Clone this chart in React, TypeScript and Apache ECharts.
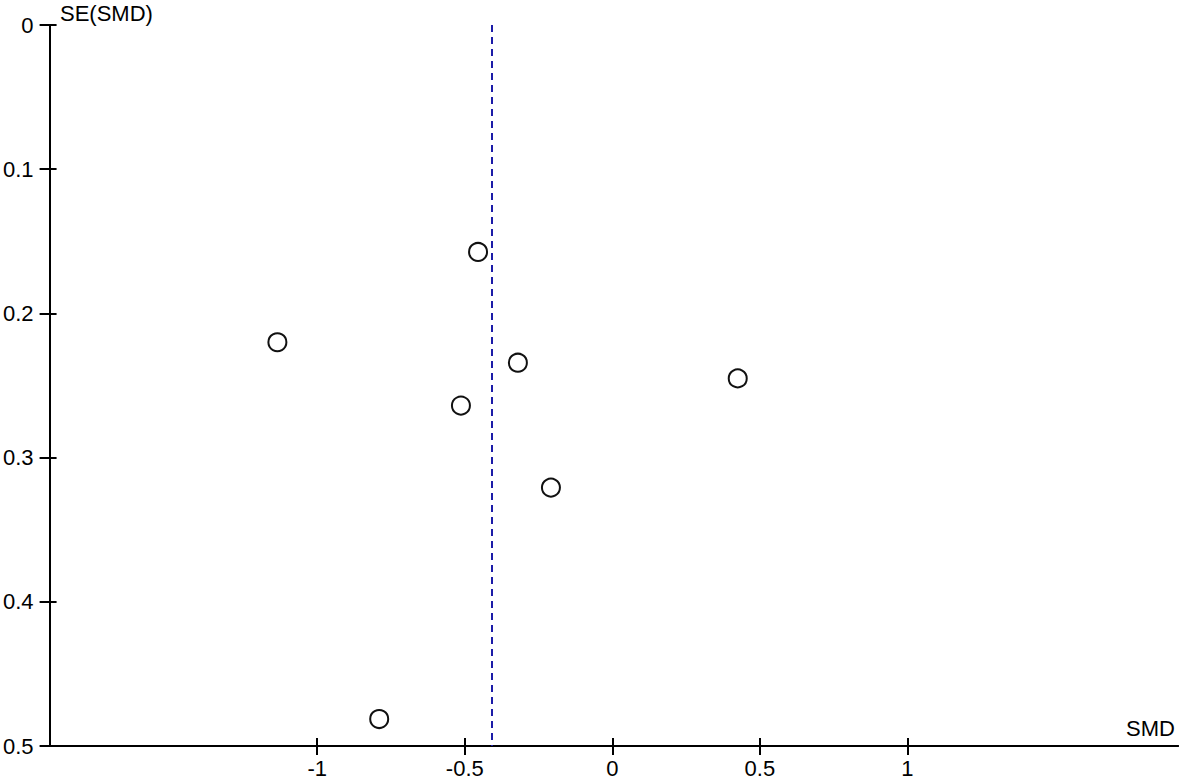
import React, { useEffect, useRef } from "react";
import * as echarts from "echarts";

const smd: number[] = [-0.455, -1.135, -0.32, 0.425, -0.513, -0.208, -0.79];
const seSmd: number[] = [0.1574, 0.22, 0.2342, 0.2451, 0.2639, 0.3208, 0.4813];
const pooledSmd = -0.414;
const xTicks: number[] = [-1, -0.5, 0, 0.5, 1];
const yTicks: number[] = [0, 0.1, 0.2, 0.3, 0.4, 0.5];
const xRange: [number, number] = [-1.907, 1.917];
const yRange: [number, number] = [0, 0.5];

export default function App() {
  const ref = useRef<HTMLDivElement>(null);
  useEffect(() => {
    if (!ref.current) return;
    const chart = echarts.init(ref.current, undefined, { renderer: "svg" });
    const font = "'Liberation Sans', Arial, sans-serif";
    const axisLine = { show: true, onZero: false, lineStyle: { color: "#000", width: 2 } };
    const xLabelFmt = (v: number) => (xTicks.some((t) => Math.abs(t - v) < 1e-9) ? String(v) : "");
    const baseX = {
      type: "value" as const,
      min: xRange[0],
      max: xRange[1],
      position: "bottom" as const,
      splitLine: { show: false },
      axisLine,
    };
    const baseY = {
      type: "value" as const,
      min: yRange[0],
      max: yRange[1],
      interval: 0.1,
      inverse: true,
      position: "left" as const,
      splitLine: { show: false },
      axisLine,
    };
    chart.setOption({
      animation: false,
      backgroundColor: "#fff",
      grid: { left: 48, top: 25, right: 3, bottom: 34, containLabel: false },
      xAxis: [
        {
          ...baseX,
          axisTick: {
            show: true,
            inside: false,
            length: 9,
            lineStyle: { color: "#000", width: 2 },
            customValues: xTicks,
          },
          axisLabel: {
            show: true,
            color: "#000",
            fontSize: 22,
            fontFamily: font,
            margin: 11,
            customValues: xTicks,
            formatter: xLabelFmt,
          },
        },
        {
          ...baseX,
          axisTick: {
            show: true,
            inside: true,
            length: 8,
            lineStyle: { color: "#000", width: 2 },
            customValues: xTicks,
          },
          axisLabel: { show: false },
        },
      ],
      yAxis: [
        {
          ...baseY,
          axisTick: { show: true, inside: false, length: 10, lineStyle: { color: "#000", width: 2 } },
          axisLabel: {
            show: true,
            color: "#000",
            fontSize: 22,
            fontFamily: font,
            margin: 16,
            formatter: (v: number) => {
              const t = yTicks.find((y) => Math.abs(y - v) < 1e-9);
              return t === undefined ? "" : String(t);
            },
          },
        },
        {
          ...baseY,
          axisTick: { show: true, inside: true, length: 7, lineStyle: { color: "#000", width: 2 } },
          axisLabel: { show: false },
        },
      ],
      graphic: [
        {
          type: "text",
          x: 60,
          y: 13,
          style: {
            text: "SE(SMD)",
            fill: "#000",
            font: `22px ${font}`,
            textAlign: "left",
            textVerticalAlign: "middle",
          },
        },
        {
          type: "text",
          x: 1175,
          y: 728,
          style: {
            text: "SMD",
            fill: "#000",
            font: `22px ${font}`,
            textAlign: "right",
            textVerticalAlign: "middle",
          },
        },
      ],
      series: [
        {
          type: "scatter",
          xAxisIndex: 0,
          yAxisIndex: 0,
          data: smd.map((x, i) => [x, seSmd[i]]),
          symbol: "circle",
          symbolSize: 18,
          itemStyle: { color: "#fff", borderColor: "#111", borderWidth: 2, opacity: 1 },
          z: 5,
          markLine: {
            silent: true,
            symbol: "none",
            label: { show: false },
            lineStyle: { color: "#1c1ca8", width: 2, type: [7, 5] },
            data: [{ xAxis: pooledSmd }],
          },
        },
      ],
    });
    return () => chart.dispose();
  }, []);
  return (
    <div
      ref={ref}
      style={{ position: "fixed", left: 0, top: 0, width: 1181, height: 780, background: "#fff" }}
    />
  );
}
